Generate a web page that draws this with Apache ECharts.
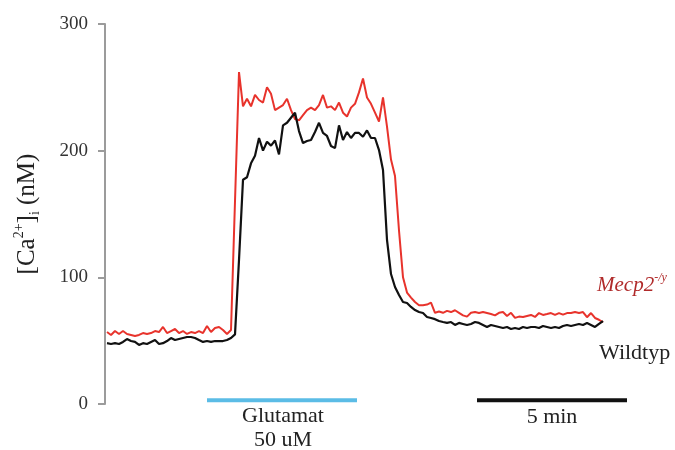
<!DOCTYPE html>
<html>
<head>
<meta charset="utf-8">
<script src="https://cdn.jsdelivr.net/npm/echarts@6/dist/echarts.min.js"></script>
<style>
html,body{margin:0;padding:0;background:#fff;}
#chart{width:675px;height:450px;}
</style>
</head>
<body>
<div id="chart"></div>
<script>
// sampling interval of the traces (seconds)
const sampleStepSec = 8;

// Mecp2-/y trace, [Ca2+]i in nM
const mecp2Values = [
  56.8, 54.5, 57.6, 55.3, 57.6, 55.3, 54.5, 53.7, 54.5, 56.0,
  55.3, 56.0, 57.6, 56.8, 60.8, 56.0, 57.6, 59.2, 56.0, 57.6,
  55.3, 56.8, 56.0, 57.6, 56.0, 61.6, 56.8, 60.0, 60.8, 58.4,
  55.3, 58.4, 160, 262, 235, 241, 235, 244, 240, 238,
  250, 245, 232, 234, 236, 241, 232, 225, 224, 228,
  232, 234, 232, 236, 244, 234, 235, 232, 238, 230,
  227, 234, 237, 246, 257, 242, 237, 230, 223, 242,
  219, 193, 180, 137, 100, 88, 84, 80.5, 78, 78,
  78.5, 80, 72, 73, 72, 73.5, 72.6, 74, 72, 70,
  69, 72, 72.6, 71.8, 72.6, 71.8, 71, 70, 72, 72.6,
  69.5, 72, 68, 69, 68.7, 69.5, 70.3, 68.7, 71.8, 70.3,
  71, 71.8, 70.3, 71.8, 70.5, 71.8, 71.8, 72.6, 71.8, 72.6,
  68.5, 71.8, 67.9, 66.5, 64.7
];

// Wildtyp trace, [Ca2+]i in nM
const wildtypValues = [
  48.0, 47.4, 48.0, 47.4, 49.0, 51.3, 49.7, 49.0, 46.6, 48.0,
  47.4, 49.0, 50.5, 47.4, 48.0, 49.7, 52.1, 50.5, 51.3, 52.1,
  52.9, 52.9, 52.1, 50.5, 49.0, 49.7, 49.0, 49.7, 49.7, 49.7,
  50.5, 52.1, 55, 113.7, 177, 179, 190, 196, 210, 200,
  207, 204, 208, 197, 220, 222, 226, 230, 215.5, 206,
  207.6, 208.4, 214.7, 222, 214, 211.6, 203.7, 202, 220, 208.4,
  214.7, 210, 214, 214, 211, 216, 210, 210, 200.5, 184.7,
  129.5, 102.6, 92.4, 86, 80.5, 79.7, 76.6, 74.2, 72.6, 71.8,
  68.7, 67.9, 67, 65.5, 64.7, 64, 64.7, 62.4, 64, 63.2,
  62.4, 63.2, 64.7, 64, 62.4, 60.8, 62.4, 61.6, 60.8, 60,
  60.8, 59.2, 60, 59.2, 60.8, 60, 60.8, 60.8, 60, 61.6,
  60.8, 60, 60.8, 60, 61.6, 62.4, 61.6, 62.4, 63.2, 62.4,
  64, 62.4, 60.8, 63.2, 65.5
];

// stimulus bar (Glutamat 50 uM), seconds
const glutamatBar = [200, 500];
// 5 min scale bar, seconds
const scaleBar = [740, 1040];
const barLevel = 3;

const yTicks = [0, 100, 200, 300];

const toPairs = vals => vals.map((v, i) => [i * sampleStepSec, v]);

const serif = '"Liberation Serif","Times New Roman",serif';

const chart = echarts.init(document.getElementById('chart'), null, {renderer: 'canvas'});

chart.setOption({
  animation: false,
  backgroundColor: '#ffffff',
  grid: {left: 105, right: 43, top: 24, bottom: 46, containLabel: false},
  xAxis: {
    type: 'value',
    min: -4,
    max: 1050,
    show: false
  },
  yAxis: {
    type: 'value',
    min: yTicks[0],
    max: yTicks[yTicks.length - 1],
    interval: 100,
    axisLine: {show: true, onZero: false, lineStyle: {color: '#9b9b9b', width: 2}},
    axisTick: {show: true, length: 7, lineStyle: {color: '#9b9b9b', width: 2}},
    splitLine: {show: false},
    axisLabel: {
      margin: 17,
      color: '#333',
      fontSize: 19,
      fontFamily: serif
    },
    name: '{a|[Ca}{s|2+}{a|]}{i|i}{a| (nM)}',
    nameLocation: 'middle',
    nameRotate: 90,
    nameGap: 63,
    nameTextStyle: {
      color: '#222',
      fontSize: 25,
      fontFamily: serif,
      rich: {
        a: {fontSize: 25, fontFamily: serif, color: '#222', lineHeight: 30},
        s: {fontSize: 14, fontFamily: serif, color: '#222', lineHeight: 15, verticalAlign: 'top'},
        i: {fontSize: 14, fontFamily: serif, color: '#222', lineHeight: 15, verticalAlign: 'bottom'}
      }
    }
  },
  series: [
    {
      name: 'Mecp2-/y',
      type: 'line',
      data: toPairs(mecp2Values),
      showSymbol: false,
      lineStyle: {color: '#e8332c', width: 2},
      z: 2
    },
    {
      name: 'Wildtyp',
      type: 'line',
      data: toPairs(wildtypValues),
      showSymbol: false,
      lineStyle: {color: '#111111', width: 2.2},
      z: 3
    },
    {
      name: 'Glutamat',
      type: 'line',
      data: [[glutamatBar[0], barLevel], [glutamatBar[1], barLevel]],
      showSymbol: false,
      lineStyle: {color: '#5bbce6', width: 4},
      z: 1
    },
    {
      name: '5 min',
      type: 'line',
      data: [[scaleBar[0], barLevel], [scaleBar[1], barLevel]],
      showSymbol: false,
      lineStyle: {color: '#111111', width: 4},
      z: 1
    }
  ],
  graphic: [
    {
      type: 'text', silent: true,
      x: 283, y: 428,
      style: {
        text: 'Glutamat\n50 uM', fill: '#222', font: '22px ' + serif,
        textAlign: 'center', textVerticalAlign: 'middle', lineHeight: 24
      }
    },
    {
      type: 'text', silent: true,
      x: 552, y: 417,
      style: {
        text: '5 min', fill: '#222', font: '22px ' + serif,
        textAlign: 'center', textVerticalAlign: 'middle'
      }
    },
    {
      type: 'text', silent: true,
      x: 597, y: 285,
      style: {
        text: '{m|Mecp2}{s|-/y}',
        textAlign: 'left', textVerticalAlign: 'middle',
        rich: {
          m: {fontSize: 21, fontStyle: 'italic', fontFamily: serif, fill: '#b02a2a', lineHeight: 26},
          s: {fontSize: 12, fontStyle: 'italic', fontFamily: serif, fill: '#b02a2a', lineHeight: 14, verticalAlign: 'top'}
        }
      }
    },
    {
      type: 'text', silent: true,
      x: 599, y: 353,
      style: {
        text: 'Wildtyp', fill: '#222', font: '22px ' + serif,
        textAlign: 'left', textVerticalAlign: 'middle'
      }
    }
  ]
});
</script>
</body>
</html>
